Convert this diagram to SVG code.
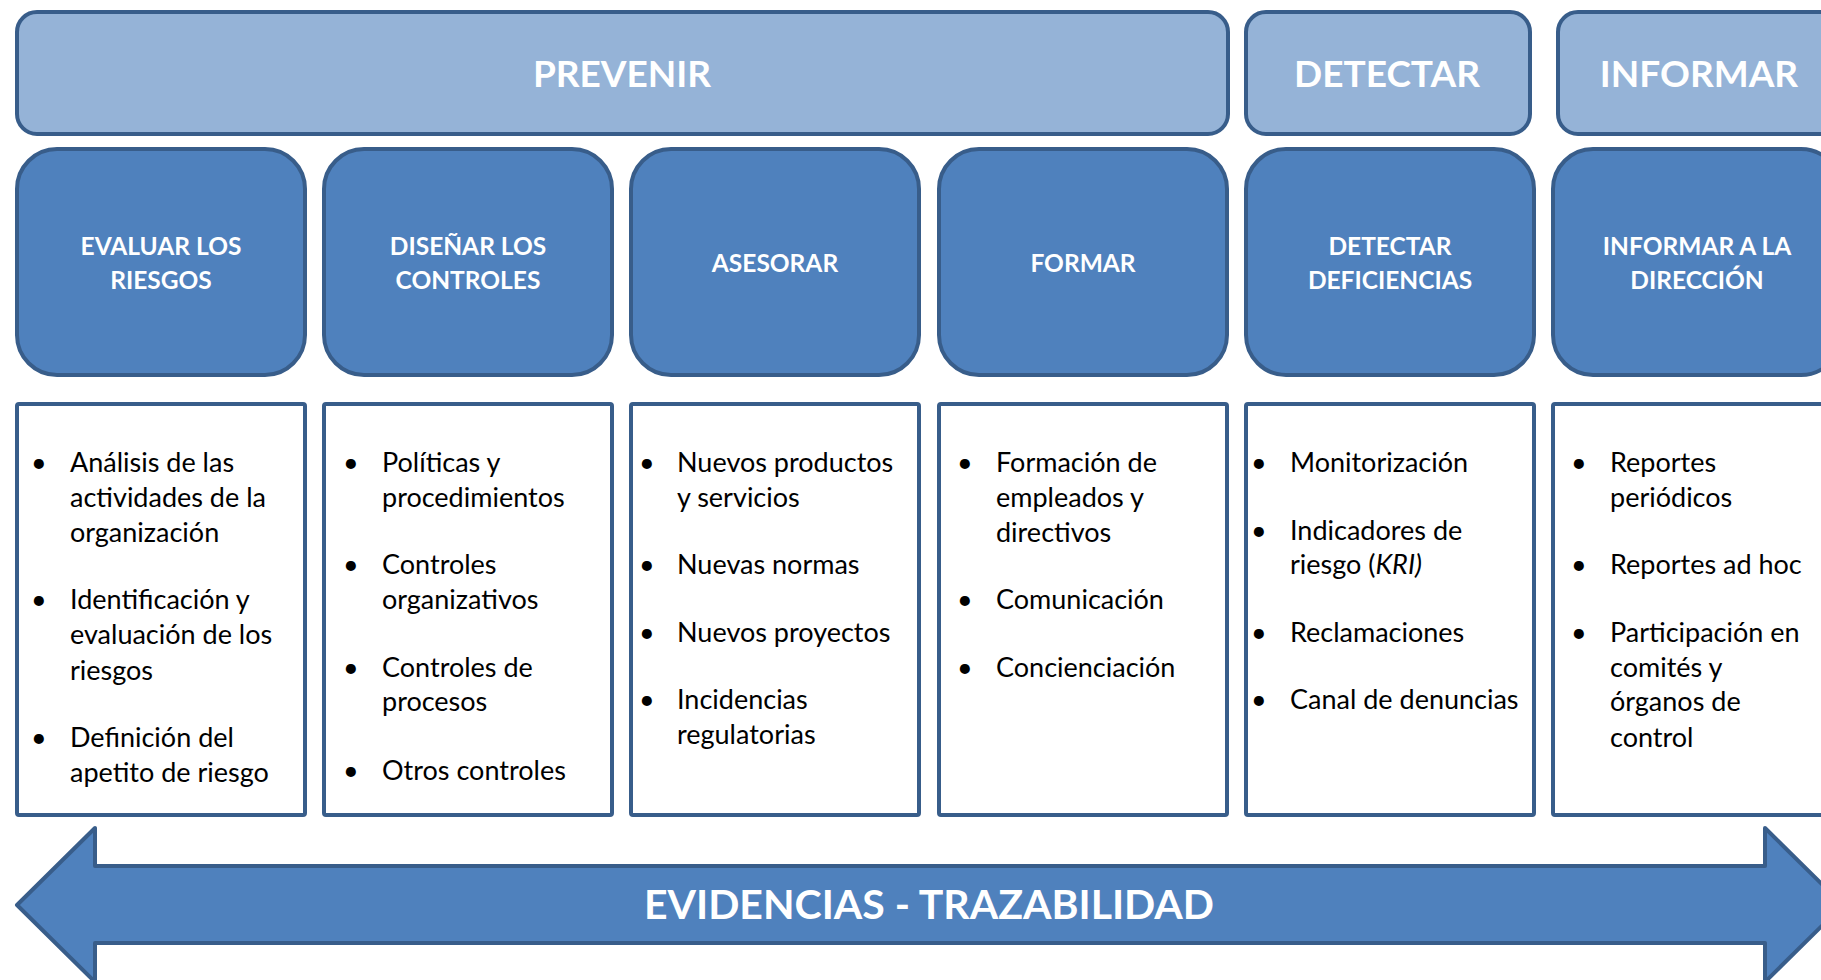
<svg xmlns="http://www.w3.org/2000/svg" width="1821" height="980" viewBox="0 0 1821 980">
<style>
.hdr{fill:#95B3D7;stroke:#385D8A;stroke-width:4}
.act{fill:#4F81BD;stroke:#385D8A;stroke-width:4}
.lst{fill:#FFFFFF;stroke:#385D8A;stroke-width:4}
.ht{font-family:Lato,"Open Sans",sans-serif;font-weight:bold;font-size:37px;fill:#FFFFFF;text-anchor:middle}
.at{font-family:Lato,"Open Sans",sans-serif;font-weight:bold;font-size:24.5px;fill:#FFFFFF;text-anchor:middle}
.bt{font-family:Lato,"Open Sans",sans-serif;font-size:27px;fill:#000000}
.et{font-family:Lato,"Open Sans",sans-serif;font-weight:bold;font-size:41px;fill:#FFFFFF;text-anchor:middle}
</style>
<g id="h-prevenir"><rect class="hdr" x="17" y="12" width="1211" height="122" rx="20"/><text class="ht" x="622" y="87">PREVENIR</text></g>
<g id="h-detectar"><rect class="hdr" x="1246" y="12" width="284" height="122" rx="20"/><text class="ht" x="1387" y="87">DETECTAR</text></g>
<g id="h-informar"><rect class="hdr" x="1558" y="12" width="292" height="122" rx="20"/><text class="ht" x="1699" y="87">INFORMAR</text></g>

<g id="a-evaluar"><rect class="act" x="17" y="149" width="288" height="226" rx="40"/><text class="at" x="161" y="255">EVALUAR LOS</text><text class="at" x="161" y="289">RIESGOS</text></g>
<g id="a-disenar"><rect class="act" x="324" y="149" width="288" height="226" rx="40"/><text class="at" x="468" y="255">DISEÑAR LOS</text><text class="at" x="468" y="289">CONTROLES</text></g>
<g id="a-asesorar"><rect class="act" x="631" y="149" width="288" height="226" rx="40"/><text class="at" x="775" y="272">ASESORAR</text></g>
<g id="a-formar"><rect class="act" x="939" y="149" width="288" height="226" rx="40"/><text class="at" x="1083" y="272">FORMAR</text></g>
<g id="a-detectar"><rect class="act" x="1246" y="149" width="288" height="226" rx="40"/><text class="at" x="1390" y="255">DETECTAR</text><text class="at" x="1390" y="289">DEFICIENCIAS</text></g>
<g id="a-informar"><rect class="act" x="1553" y="149" width="288" height="226" rx="40"/><text class="at" x="1697" y="255">INFORMAR A LA</text><text class="at" x="1697" y="289">DIRECCIÓN</text></g>

<g id="l-evaluar"><rect class="lst" x="17" y="404" width="288" height="411" rx="2"/>
<text class="bt"><tspan x="31" y="472">•</tspan><tspan x="70" y="472">Análisis de las</tspan><tspan x="70" y="507">actividades de la</tspan><tspan x="70" y="542">organización</tspan>
<tspan x="31" y="609">•</tspan><tspan x="70" y="609">Identificación y</tspan><tspan x="70" y="644">evaluación de los</tspan><tspan x="70" y="680">riesgos</tspan>
<tspan x="31" y="747">•</tspan><tspan x="70" y="747">Definición del</tspan><tspan x="70" y="782">apetito de riesgo</tspan></text></g>

<g id="l-disenar"><rect class="lst" x="324" y="404" width="288" height="411" rx="2"/>
<text class="bt"><tspan x="343" y="472">•</tspan><tspan x="382" y="472">Políticas y</tspan><tspan x="382" y="507">procedimientos</tspan>
<tspan x="343" y="574">•</tspan><tspan x="382" y="574">Controles</tspan><tspan x="382" y="609">organizativos</tspan>
<tspan x="343" y="677">•</tspan><tspan x="382" y="677">Controles de</tspan><tspan x="382" y="711">procesos</tspan>
<tspan x="343" y="780">•</tspan><tspan x="382" y="780">Otros controles</tspan></text></g>

<g id="l-asesorar"><rect class="lst" x="631" y="404" width="288" height="411" rx="2"/>
<text class="bt"><tspan x="639" y="472">•</tspan><tspan x="677" y="472">Nuevos productos</tspan><tspan x="677" y="507">y servicios</tspan>
<tspan x="639" y="574">•</tspan><tspan x="677" y="574">Nuevas normas</tspan>
<tspan x="639" y="642">•</tspan><tspan x="677" y="642">Nuevos proyectos</tspan>
<tspan x="639" y="709">•</tspan><tspan x="677" y="709">Incidencias</tspan><tspan x="677" y="744">regulatorias</tspan></text></g>

<g id="l-formar"><rect class="lst" x="939" y="404" width="288" height="411" rx="2"/>
<text class="bt"><tspan x="957" y="472">•</tspan><tspan x="996" y="472">Formación de</tspan><tspan x="996" y="507">empleados y</tspan><tspan x="996" y="542">directivos</tspan>
<tspan x="957" y="609">•</tspan><tspan x="996" y="609">Comunicación</tspan>
<tspan x="957" y="677">•</tspan><tspan x="996" y="677">Concienciación</tspan></text></g>

<g id="l-detectar"><rect class="lst" x="1246" y="404" width="288" height="411" rx="2"/>
<text class="bt"><tspan x="1251" y="472">•</tspan><tspan x="1290" y="472">Monitorización</tspan>
<tspan x="1251" y="540">•</tspan><tspan x="1290" y="540">Indicadores de</tspan><tspan x="1290" y="574">riesgo (</tspan><tspan font-style="italic">KRI)</tspan>
<tspan x="1251" y="642">•</tspan><tspan x="1290" y="642">Reclamaciones</tspan>
<tspan x="1251" y="709">•</tspan><tspan x="1290" y="709">Canal de denuncias</tspan></text></g>

<g id="l-informar"><rect class="lst" x="1553" y="404" width="288" height="411" rx="2"/>
<text class="bt"><tspan x="1571" y="472">•</tspan><tspan x="1610" y="472">Reportes</tspan><tspan x="1610" y="507">periódicos</tspan>
<tspan x="1571" y="574">•</tspan><tspan x="1610" y="574">Reportes ad hoc</tspan>
<tspan x="1571" y="642">•</tspan><tspan x="1610" y="642">Participación en</tspan><tspan x="1610" y="677">comités y</tspan><tspan x="1610" y="711">órganos de</tspan><tspan x="1610" y="747">control</tspan></text></g>

<g id="connectors"></g>

<g id="arrow-evidencias"><path class="act" stroke-linejoin="round" d="M17,905 L95,828 L95,866 L1765,866 L1765,828 L1843,905 L1765,982 L1765,943 L95,943 L95,982 Z"/>
<text class="et" x="929" y="919">EVIDENCIAS - TRAZABILIDAD</text></g>
</svg>
